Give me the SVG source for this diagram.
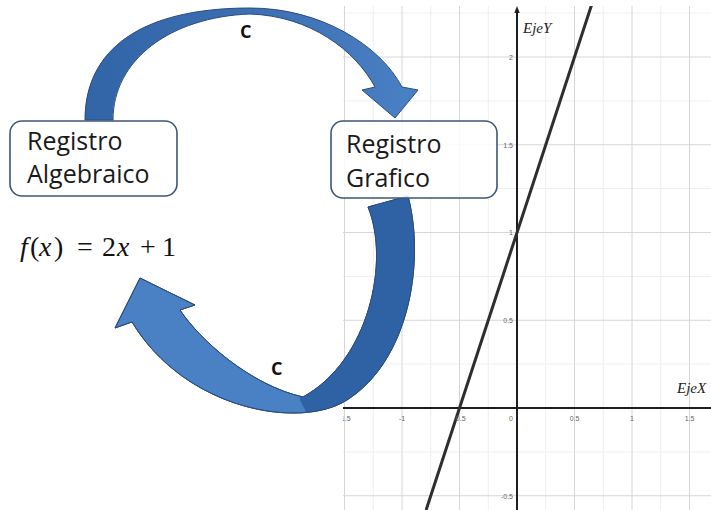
<svg xmlns="http://www.w3.org/2000/svg" xmlns:xlink="http://www.w3.org/1999/xlink" width="711" height="510" viewBox="0 0 711 510">
  <style>
    .major { stroke: #d6d6d6; stroke-width: 1; }
    .minor { stroke: #eeeeee; stroke-width: 1; }
    .axis { stroke: #1e1e1e; stroke-width: 2; }
    .tick { font-family: "Liberation Sans", Arial, sans-serif; font-size: 7px; fill: #666; }
    .axlab { font-family: "Liberation Serif", "Times New Roman", serif; font-style: italic; font-size: 15px; fill: #222; }
    .box { fill: #ffffff; fill-opacity: 0.85; stroke: #3e5674; stroke-width: 1.6; }
    .boxtxt { font-family: "Open Sans", "Liberation Sans", sans-serif; font-size: 25px; fill: #1a1a1a; }
    .clab { font-family: "Open Sans", "Liberation Sans", sans-serif; font-weight: bold; font-size: 18px; fill: #111; }
    .math { font-family: "Liberation Serif", "DejaVu Serif", serif; font-size: 28px; fill: #111; }
    .it { font-style: italic; }
    .arrow { stroke: #2b4d7c; stroke-width: 1; stroke-linejoin: round; }
  </style>
  <defs>
    <clipPath id="graphClip"><rect x="343" y="6" width="368" height="504"/></clipPath>
    <clipPath id="rightPart"><path d="M300,190 L432,190 L432,420 L310,420 L300,400 Z"/></clipPath>
    <linearGradient id="topGrad" gradientUnits="userSpaceOnUse" x1="85" y1="0" x2="417" y2="0">
      <stop offset="0" stop-color="#3265a8"/>
      <stop offset="0.45" stop-color="#3b6eb1"/>
      <stop offset="1" stop-color="#4a80c4"/>
    </linearGradient>
    <path id="botArrowPath" d="M368,207 L408,196 C425,260 410,360 347,400 C300,430 185,410 132,322 L115,328 L140,278 L195,305 L180,310 C200,340 250,385 303,397 C370,360 390,260 368,207 Z"/>
  </defs>

  <rect x="0" y="0" width="711" height="510" fill="#ffffff"/>

  <g id="graph" clip-path="url(#graphClip)">
    <g class="minor">
      <line x1="373.25" y1="0" x2="373.25" y2="510"/>
      <line x1="430.75" y1="0" x2="430.75" y2="510"/>
      <line x1="488.25" y1="0" x2="488.25" y2="510"/>
      <line x1="545.75" y1="0" x2="545.75" y2="510"/>
      <line x1="603.25" y1="0" x2="603.25" y2="510"/>
      <line x1="660.75" y1="0" x2="660.75" y2="510"/>
      <line x1="343" y1="13.1" x2="711" y2="13.1"/>
      <line x1="343" y1="100.9" x2="711" y2="100.9"/>
      <line x1="343" y1="188.6" x2="711" y2="188.6"/>
      <line x1="343" y1="276.4" x2="711" y2="276.4"/>
      <line x1="343" y1="364.1" x2="711" y2="364.1"/>
      <line x1="343" y1="451.9" x2="711" y2="451.9"/>
    </g>
    <g class="major">
      <line x1="344.5" y1="0" x2="344.5" y2="510"/>
      <line x1="402" y1="0" x2="402" y2="510"/>
      <line x1="459.5" y1="0" x2="459.5" y2="510"/>
      <line x1="574.5" y1="0" x2="574.5" y2="510"/>
      <line x1="632" y1="0" x2="632" y2="510"/>
      <line x1="689.5" y1="0" x2="689.5" y2="510"/>
      <line x1="343" y1="57" x2="711" y2="57"/>
      <line x1="343" y1="144.75" x2="711" y2="144.75"/>
      <line x1="343" y1="232.5" x2="711" y2="232.5"/>
      <line x1="343" y1="320.25" x2="711" y2="320.25"/>
      <line x1="343" y1="495.75" x2="711" y2="495.75"/>
    </g>
    <line class="axis" x1="343" y1="408" x2="711" y2="408"/>
    <line class="axis" x1="517" y1="11" x2="517" y2="510"/>
    <polygon points="517,6 514.3,13 519.7,13" fill="#1e1e1e"/>
    <line x1="593.2" y1="0" x2="426.1" y2="510" stroke="#2e2e2e" stroke-width="3"/>
    <g class="tick" text-anchor="middle">
      <text x="344.5" y="421">-1.5</text>
      <text x="402" y="421">-1</text>
      <text x="459.5" y="421">-0.5</text>
      <text x="511" y="421">0</text>
      <text x="574.5" y="421">0.5</text>
      <text x="632" y="421">1</text>
      <text x="689.5" y="421">1.5</text>
    </g>
    <g class="tick" text-anchor="end">
      <text x="513" y="60">2</text>
      <text x="513" y="147.5">1.5</text>
      <text x="513" y="235">1</text>
      <text x="513" y="323">0.5</text>
      <text x="513" y="498.5">-0.5</text>
    </g>
    <text class="axlab" x="523" y="33">EjeY</text>
    <text class="axlab" x="677" y="393">EjeX</text>
  </g>

  <g id="connectors">
    <path class="arrow" fill="url(#topGrad)" d="M85,120 C85,50 140,8 250,8 C320,8 380,45 402,87 L418,90 L395,118 L362,90 L375,87 C355,50 310,16 250,14 C170,17 113,60 113,120 Z"/>
    <use xlink:href="#botArrowPath" class="arrow" fill="#4a80c4"/>
    <use xlink:href="#botArrowPath" fill="#2f62a5" clip-path="url(#rightPart)"/>
    <use xlink:href="#botArrowPath" fill="none" class="arrow"/>
    <text class="clab" x="240" y="38">C</text>
    <text class="clab" x="271" y="375">C</text>
  </g>

  <g id="node-algebraico">
    <rect class="box" x="10" y="121" width="167" height="75" rx="12"/>
    <text class="boxtxt" x="27" y="150">Registro</text>
    <text class="boxtxt" x="27" y="183">Algebraico</text>
  </g>

  <g id="node-grafico">
    <rect class="box" x="331" y="121" width="166" height="77" rx="12"/>
    <text class="boxtxt" x="346" y="153">Registro</text>
    <text class="boxtxt" x="346" y="187">Grafico</text>
  </g>

  <g id="formula">
    <text class="math" y="256"><tspan x="20" class="it">f</tspan><tspan x="30">(</tspan><tspan x="39" class="it">x</tspan><tspan x="54">)</tspan><tspan x="77">=</tspan><tspan x="102">2</tspan><tspan x="117" class="it">x</tspan><tspan x="140">+</tspan><tspan x="162">1</tspan></text>
  </g>
</svg>
